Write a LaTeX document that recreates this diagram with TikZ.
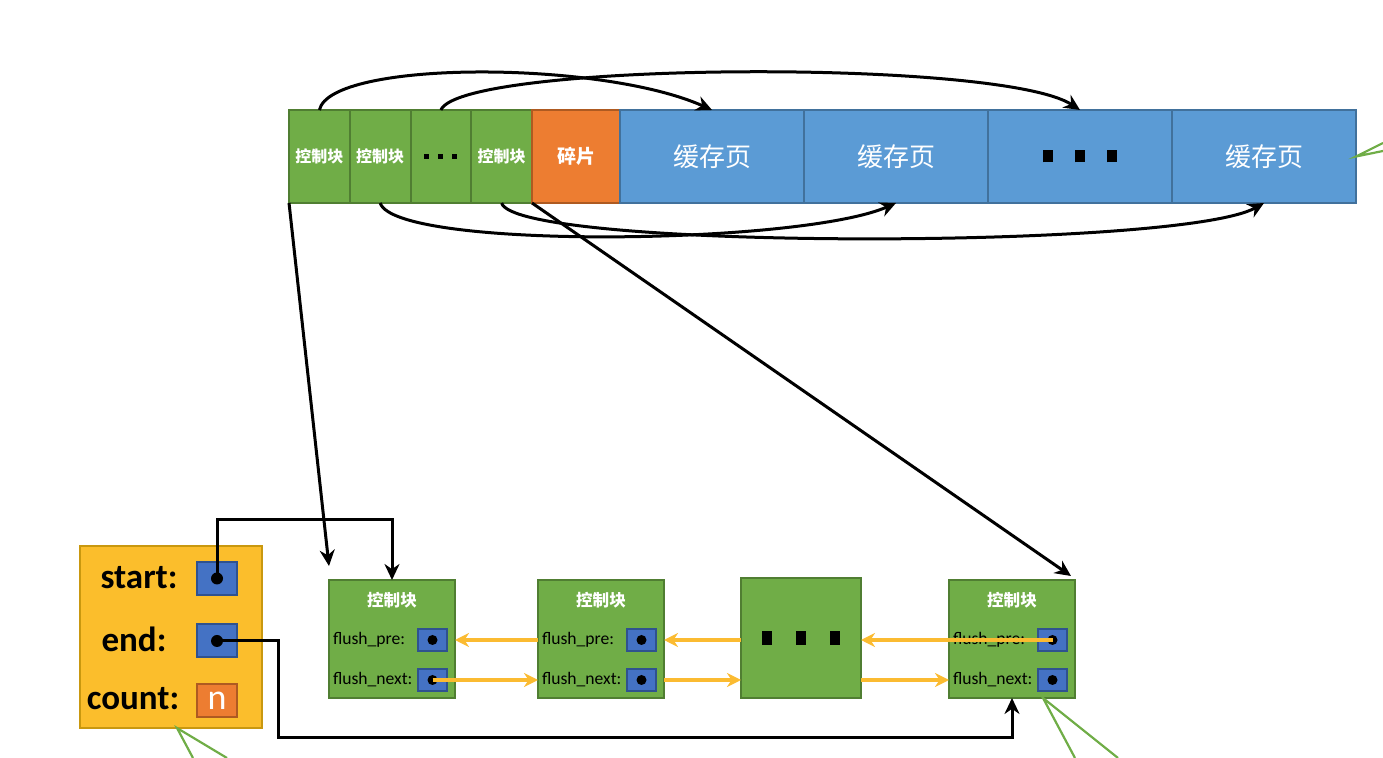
\documentclass[tikz,border=0pt]{standalone}
\usepackage{fontspec}
\setmainfont{Carlito}
\newfontfamily\cjk{Noto Sans CJK SC}
\usetikzlibrary{arrows.meta, positioning}
\definecolor{gfill}{HTML}{70AD47}
\definecolor{gedge}{HTML}{507E32}
\definecolor{ofill}{HTML}{ED7D31}
\definecolor{oedge}{HTML}{AE5A21}
\definecolor{bfill}{HTML}{5B9BD5}
\definecolor{bedge}{HTML}{41719C}
\definecolor{pfill}{HTML}{4472C4}
\definecolor{pedge}{HTML}{2F528F}
\definecolor{yfill}{HTML}{FBBE2C}
\definecolor{yedge}{HTML}{C9980F}
\definecolor{arrowc}{HTML}{FBBB31}

\begin{document}
\begin{tikzpicture}[x=0.5pt, y=-0.5pt, >={Stealth[length=8pt,width=7.5pt]},
    every node/.style={inner sep=0pt, outer sep=0pt},
    cell/.style={draw=gedge, fill=gfill, line width=1pt, minimum width=30.375pt, minimum height=46.5pt,
      text=white, font=\cjk\bfseries\fontsize{8}{8}\selectfont},
    page/.style={draw=bedge, fill=bfill, line width=1pt, minimum width=92pt, minimum height=46.5pt,
      text=white, font=\cjk\fontsize{13}{13}\selectfont},
    ctl/.style={draw=gedge, fill=gfill, line width=1pt, minimum width=63pt, minimum height=59pt},
    ptr/.style={draw=pedge, fill=pfill, line width=1pt, minimum width=14.5pt, minimum height=11pt},
    pbox/.style={draw=pedge, fill=pfill, line width=1pt, minimum width=20pt, minimum height=16.5pt},
    title/.style={text=white, font=\cjk\bfseries\fontsize{8.3}{8.3}\selectfont},
    lbl/.style={font=\fontsize{8.8}{8.8}\selectfont, inner xsep=2pt},
    key/.style={font=\bfseries\fontsize{17.5}{17.5}\selectfont},
    blk/.style={line width=1.5pt},
    yarr/.style={draw=arrowc, line width=1.6pt, -{Stealth[length=7pt,width=7pt]}},
    gline/.style={draw=gfill, line width=1.1pt}]
  \useasboundingbox (0,0) rectangle (1383,758);

  % top bar: control blocks, fragment, pages
  \node[cell] (c1) at (319.4,156.5) {控制块};
  \node[cell, right=0pt of c1] (c2) {控制块};
  \node[cell, text=black, right=0pt of c2] (cd)
    {\rule{2.5pt}{2.5pt}\hspace{4.5pt}\rule{2.5pt}{2.5pt}\hspace{4.5pt}\rule{2.5pt}{2.5pt}};
  \node[cell, right=0pt of cd] (c3) {控制块};
  \node[cell, draw=oedge, fill=ofill, minimum width=44pt, font=\cjk\bfseries\fontsize{9.5}{9.5}\selectfont,
    right=0pt of c3] (frag) {碎片};
  \node[page, right=0pt of frag] (p1) {缓存页};
  \node[page, right=0pt of p1] (p2) {缓存页};
  \node[page, text=black, right=0pt of p2] (pd)
    {\rule{5pt}{6pt}\hspace{11pt}\rule{5pt}{6pt}\hspace{11pt}\rule{5pt}{6pt}};
  \node[page, right=0pt of pd] (p3) {缓存页};

  \draw[blk,->] (c1.north) .. controls +(11,-50) and +(-112,-50) .. (p1.north);
  \draw[blk,->] (cd.north) .. controls +(20,-48) and +(-80,-52) .. (pd.north);
  \draw[blk,->] (c2.south) .. controls +(15,47) and +(-96,42) .. (p2.south);
  \draw[blk,->] (c3.south) .. controls +(13,47) and +(-84,47) .. (p3.south);

  % flush list base node
  \node[draw=yedge, fill=yfill, line width=1pt, minimum width=91pt, minimum height=91pt] (info) at (171,637) {};
  \node[key] (ks) at (139,578) {start:};
  \node[key] (ke) at (134,639) {end:};
  \node[key] (kc) at (133,699) {count:};
  \node[pbox] (sbox) at (217,578.5) {};
  \node[pbox] (ebox) at (217,641) {};
  \node[pbox, draw=oedge, fill=ofill, text=white, font=\fontsize{18}{18}\selectfont] (cbox) at (217,701) {n};
  \fill (sbox) circle (3pt);
  \fill (ebox) circle (3pt);

  % control blocks in the flush list
  \node[ctl] (n1) at (392,639) {};
  \node[ctl, right=41.5pt of n1] (n2) {};
  \node[ctl, minimum width=60pt, minimum height=60pt, right=38.5pt of n2, yshift=0.5pt] (nd)
    {\rule{5pt}{7pt}\hspace{12pt}\rule{5pt}{7pt}\hspace{12pt}\rule{5pt}{7pt}};
  \node[ctl, right=44pt of nd, yshift=-0.5pt] (n4) {};
  \foreach \n in {n1,n2,n4} {
    \node[title] (\n-t) at ([yshift=-10pt]\n.north) {控制块};
    \node[ptr, anchor=east] (\n-pre) at ([xshift=-4pt,yshift=-0.5pt]\n.east) {};
    \node[ptr, anchor=east] (\n-next) at ([xshift=-4pt,yshift=-20.5pt]\n.east) {};
    \node[lbl, anchor=west] (\n-lp) at (\n.west |- \n-pre) {flush\_pre:};
    \node[lbl, anchor=west] (\n-ln) at (\n.west |- \n-next) {flush\_next:};
    \fill (\n-pre) circle (2.5pt);
    \fill (\n-next) circle (2.5pt);
  }

  \draw[yarr] (n2.west |- n2-pre) -- (n1.east |- n1-pre);
  \draw[yarr] (nd.west |- n2-pre) -- (n2.east |- n2-pre);
  \draw[yarr] (n4-pre.center) -- (nd.east |- n4-pre);
  \draw[yarr] (n1-next.center) -- (n2.west |- n1-next);
  \draw[yarr] (n2.east |- n2-next) -- (nd.west |- n2-next);
  \draw[yarr] (nd.east |- n2-next) -- (n4.west |- n4-next);

  \draw[blk,->] (sbox.center) -- (sbox.center |- 0,520) -| (n1.north);
  \draw[blk,->] (ebox.center) -| (278,738) -| (n4.south);
  \draw[blk,->] (c1.south west) -- ([yshift=7pt]n1.north west);
  \draw[blk,->] (frag.south west) -- ([xshift=-2pt,yshift=2pt]n4.north east);

  % cut-off green lines at the edges
  \draw[gline] (1383,143) -- (p3.east) -- (1383,151);
  \draw[gline] (193,758) -- ([xshift=3pt]info.south) -- (227,758);
  \draw[gline] (1075,758) -- ([xshift=15.5pt]n4.south) -- (1118,758);
\end{tikzpicture}
\end{document}
